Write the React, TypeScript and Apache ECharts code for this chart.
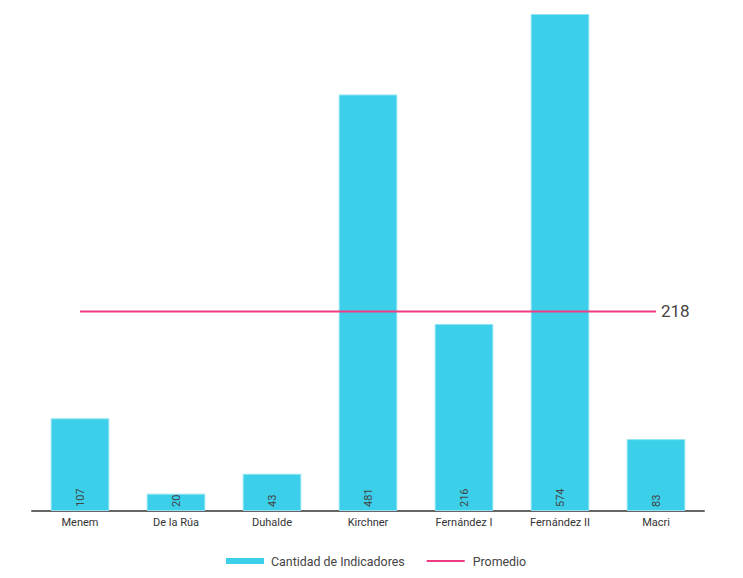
import React, { useEffect, useRef } from "react";
import * as echarts from "echarts";

const categories = ["Menem", "De la Rúa", "Duhalde", "Kirchner", "Fernández I", "Fernández II", "Macri"];
const indicadores = [107, 20, 43, 481, 216, 574, 83];
const promedio = [218, 218, 218, 218, 218, 218, 218];

export default function App() {
  const ref = useRef<HTMLDivElement>(null);
  useEffect(() => {
    document.body.style.margin = "0";
    const chart = echarts.init(ref.current!, null, { renderer: "svg" });
    chart.setOption({
      animation: false,
      textStyle: { fontFamily: "Roboto" },
      grid: { left: 32, right: 39, top: 14, bottom: 67 },
      legend: {
        bottom: 6,
        left: 221,
        itemWidth: 38,
        itemHeight: 6,
        itemGap: 22,
        textStyle: { fontSize: 12.4, color: "#444", fontFamily: "Roboto", padding: [0, 0, 0, 2] },
        data: [
          { name: "Cantidad de Indicadores", icon: "rect", itemStyle: { borderWidth: 0, color: "#3bcfe9" } },
          {
            name: "Promedio",
            icon: "path://M0,0 L0.01,0 M0,2 L38,2 L38,4 L0,4 Z M0,6 L0.01,6",
            itemStyle: { color: "#ee3b82", borderWidth: 0 },
            textStyle: { padding: [0, 0, 0, 3] },
          },
        ],
      },
      xAxis: {
        type: "category",
        data: categories,
        axisLine: { lineStyle: { color: "#666", width: 2 } },
        axisTick: { show: false },
        axisLabel: { color: "#333", fontSize: 11, margin: 6, fontFamily: "Roboto" },
      },
      yAxis: [
        { type: "value", min: 0, max: 574, show: false, splitLine: { show: false } },
        { type: "value", min: 0, max: 543, show: false, splitLine: { show: false } },
      ],
      series: [
        {
          name: "Cantidad de Indicadores",
          type: "bar",
          data: indicadores,
          barWidth: "61%",
          itemStyle: { color: "#3bcfe9", borderColor: "#8ee3f2", borderWidth: 1 },
          label: {
            show: true,
            position: "insideBottom",
            rotate: 90,
            align: "left",
            verticalAlign: "middle",
            distance: 4,
            color: "#444",
            fontSize: 11,
            fontFamily: "Roboto",
          },
        },
        {
          name: "Promedio",
          type: "line",
          yAxisIndex: 1,
          data: promedio,
          symbol: "none",
          lineStyle: { color: "#ee3b82", width: 2 },
          itemStyle: { color: "#ee3b82" },
          endLabel: {
            show: true,
            formatter: "{c}",
            color: "#444",
            fontSize: 17,
            distance: 5,
            fontFamily: "Roboto",
          },
        },
      ],
    });
    return () => chart.dispose();
  }, []);
  return <div ref={ref} style={{ width: 743, height: 578 }} />;
}
